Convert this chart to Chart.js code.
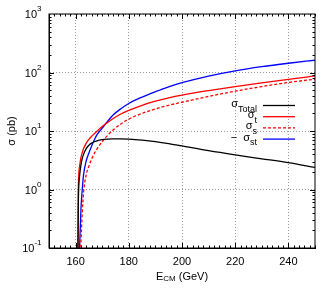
<!DOCTYPE html>
<html>
<head>
<meta charset="utf-8">
<title>WW cross sections</title>
<script src="https://cdn.jsdelivr.net/npm/chart.js@4.4.1/dist/chart.umd.min.js"></script>
<style>
  html, body { margin: 0; padding: 0; background: #fff; }
  canvas { display: block; }
</style>
</head>
<body>
<canvas id="xsec-chart" width="332" height="297"></canvas>
<script>
// =============================================================================
// DATA
// =============================================================================

const energies   = [160.8, 161, 161.5, 162, 162.5, 163, 164, 165, 166, 167, 168, 170, 172, 174, 177, 180, 185, 190, 195, 200, 210, 220, 230, 240, 250];
const sigmaTotal = [0.02, 0.5, 1.7, 2.6, 3.4, 4.0, 5.0, 5.7, 6.2, 6.55, 6.8, 7.1, 7.25, 7.33, 7.35, 7.28, 7.0, 6.6, 6.1, 5.55, 4.6, 3.9, 3.35, 2.87, 2.38];
const sigmaT     = [0.02, 0.9, 2.5, 3.5, 4.3, 5.0, 6.2, 7.2, 8.1, 9.0, 9.9, 11.9, 14.0, 16.2, 19.5, 22.5, 27.5, 32.3, 36.8, 41, 49, 57.5, 66.5, 76.5, 87.5];
const sigmaS     = [0.002, 0.005, 0.03, 0.12, 0.4, 0.9, 1.8, 2.5, 3.3, 4.1, 4.9, 6.6, 8.4, 10.3, 13.2, 16.0, 20.0, 23.8, 27.5, 31, 39, 48, 57.5, 67.5, 77];
const sigmaSt    = [0.002, 0.01, 0.1, 0.45, 1.0, 1.8, 3.1, 4.2, 5.5, 7.0, 8.6, 11.2, 14.6, 18.6, 24.0, 29.5, 38, 47, 57, 67, 87, 107, 126, 144, 162];

const xTickValues    = [160, 180, 200, 220, 240];
const yTickExponents = [-1, 0, 1, 2, 3];

const seriesPrefixes   = ['', '', '', '\u2212  '];
const seriesSubscripts = ['Total', 't', 's', 'st'];

// =============================================================================
// HELPERS
// =============================================================================

const FONT = "'Liberation Sans', Arial, sans-serif";

function toPoints(values) {
  return energies.map((e, i) => ({ x: e, y: values[i] }));
}

/**
 * Draw a run of text pieces (main text, sub/superscripts) on one line
 * @param {array} parts - [{text, size, dy}]
 */
function drawParts(ctx, parts, x, y, align) {
  ctx.textBaseline = 'alphabetic';
  ctx.textAlign = 'left';
  let total = 0;
  parts.forEach(p => {
    ctx.font = p.size + 'px ' + FONT;
    p.w = ctx.measureText(p.text).width;
    total += p.w;
  });
  let cx = align === 'right' ? x - total : align === 'center' ? x - total / 2 : x;
  parts.forEach(p => {
    ctx.font = p.size + 'px ' + FONT;
    ctx.fillText(p.text, cx, y + (p.dy || 0));
    cx += p.w;
  });
}

// =============================================================================
// FRAME, TICKS, LABELS AND LEGEND
// =============================================================================

const framePlugin = {
  id: 'frame',
  afterDraw(chart) {
    const ctx = chart.ctx;
    const area = chart.chartArea;
    const xs = chart.scales.x;
    const ys = chart.scales.y;

    ctx.save();
    ctx.strokeStyle = '#000';
    ctx.lineWidth = 1;
    ctx.strokeRect(area.left, area.top, area.right - area.left, area.bottom - area.top);

    // tick marks pointing inward, mirrored on top and right
    ctx.beginPath();
    for (let e = 150; e <= 250; e += 2) {
      const px = Math.round(xs.getPixelForValue(e)) + 0.5;
      const len = xTickValues.includes(e) ? 5 : 2.5;
      ctx.moveTo(px, area.bottom); ctx.lineTo(px, area.bottom - len);
      ctx.moveTo(px, area.top); ctx.lineTo(px, area.top + len);
    }
    for (let d = -1; d <= 2; d++) {
      for (let m = 1; m <= 9; m++) {
        const py = Math.round(ys.getPixelForValue(m * Math.pow(10, d))) + 0.5;
        const len = m === 1 ? 5 : 2.5;
        ctx.moveTo(area.left, py); ctx.lineTo(area.left + len, py);
        ctx.moveTo(area.right, py); ctx.lineTo(area.right - len, py);
      }
    }
    ctx.stroke();

    ctx.fillStyle = '#000';

    // x tick labels
    xTickValues.forEach(v => {
      drawParts(ctx, [{ text: String(v), size: 11 }], xs.getPixelForValue(v), area.bottom + 17, 'center');
    });

    // y tick labels as powers of ten
    yTickExponents.forEach(e => {
      const py = ys.getPixelForValue(Math.pow(10, e));
      drawParts(ctx, [
        { text: '10', size: 11 },
        { text: e < 0 ? '-' + Math.abs(e) : String(e), size: 8, dy: -7 }
      ], 41.5, py + 4, 'right');
    });

    // axis titles
    drawParts(ctx, [
      { text: 'E', size: 11 },
      { text: 'CM', size: 8, dy: 1 },
      { text: ' (GeV)', size: 11 }
    ], (area.left + area.right) / 2, 280, 'center');

    ctx.save();
    ctx.translate(15, (area.top + area.bottom) / 2);
    ctx.rotate(-Math.PI / 2);
    drawParts(ctx, [{ text: '\u03c3 (pb)', size: 11 }], 0, 0, 'center');
    ctx.restore();

    // legend
    chart.data.datasets.forEach((ds, i) => {
      const ly = 105 + i * 11.2;
      drawParts(ctx, [
        { text: seriesPrefixes[i] + '\u03c3', size: 11 },
        { text: seriesSubscripts[i], size: 9, dy: 4.5 }
      ], 257, ly + 2, 'right');
      ctx.beginPath();
      ctx.strokeStyle = ds.borderColor;
      ctx.lineWidth = ds.borderWidth;
      ctx.setLineDash(ds.borderDash || []);
      ctx.moveTo(263, ly + 0.5);
      ctx.lineTo(295, ly + 0.5);
      ctx.stroke();
      ctx.setLineDash([]);
    });
    ctx.restore();
  }
};

// =============================================================================
// CHART
// =============================================================================

function makeDataset(values, color, dash) {
  return {
    data: toPoints(values),
    borderColor: color,
    borderWidth: 1.3,
    borderDash: dash || [],
    pointRadius: 0,
    fill: false,
    cubicInterpolationMode: 'monotone'
  };
}

const ctx = document.getElementById('xsec-chart').getContext('2d');

new Chart(ctx, {
  type: 'line',
  data: {
    datasets: [
      makeDataset(sigmaTotal, '#000000'),
      makeDataset(sigmaT, '#ff0000'),
      makeDataset(sigmaS, '#ff0000', [3, 2]),
      makeDataset(sigmaSt, '#0000ff')
    ]
  },
  options: {
    responsive: false,
    animation: false,
    devicePixelRatio: 1,
    layout: { padding: { left: 0, right: 17, top: 14, bottom: 0 } },
    plugins: {
      legend: { display: false },
      tooltip: { enabled: false }
    },
    scales: {
      x: {
        type: 'linear',
        min: 150,
        max: 250,
        afterBuildTicks: (scale) => { scale.ticks = xTickValues.map(v => ({ value: v })); },
        afterFit: (scale) => { scale.height = 49; },
        ticks: { display: false },
        grid: { color: '#999', lineWidth: 1, drawTicks: false },
        border: { color: '#000', width: 1, dash: [1, 2] }
      },
      y: {
        type: 'logarithmic',
        min: 0.1,
        max: 1000,
        afterBuildTicks: (scale) => { scale.ticks = yTickExponents.map(e => ({ value: Math.pow(10, e) })); },
        afterFit: (scale) => { scale.width = 49; },
        ticks: { display: false },
        grid: { color: '#999', lineWidth: 1, drawTicks: false },
        border: { color: '#000', width: 1, dash: [1, 2] }
      }
    }
  },
  plugins: [framePlugin]
});
</script>
</body>
</html>
